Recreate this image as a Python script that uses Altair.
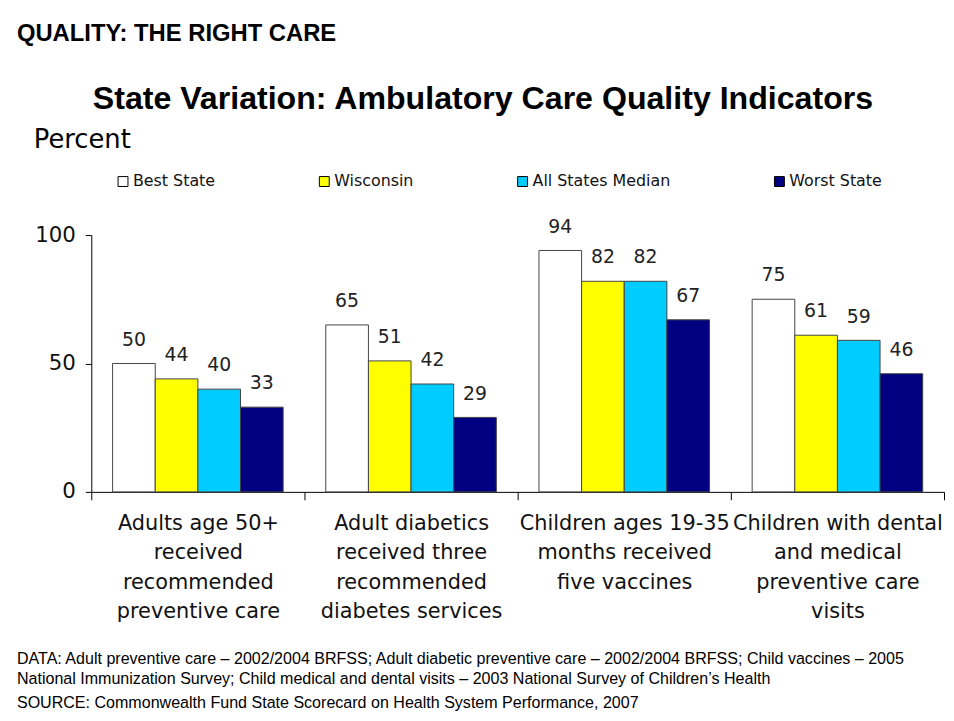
import altair as alt
import pandas as pd

# ---- data ----
categories = [
    "Adults age 50+|received|recommended|preventive care",
    "Adult diabetics|received three|recommended|diabetes services",
    "Children ages 19-35|months received|five vaccines",
    "Children with dental|and medical|preventive care|visits",
]
series = ["Best State", "Wisconsin", "All States Median", "Worst State"]
colors = ["#FFFFFF", "#FFFF00", "#00CCFF", "#000080"]
best_state = [50, 65, 94, 75]
wisconsin = [44, 51, 82, 61]
all_states_median = [40, 42, 82, 59]
worst_state = [33, 29, 67, 46]

header = "QUALITY: THE RIGHT CARE"
title = "State Variation: Ambulatory Care Quality Indicators"
y_title = "Percent"
footer = [
    "DATA: Adult preventive care \u2013 2002/2004 BRFSS; Adult diabetic preventive care \u2013 2002/2004 BRFSS; Child vaccines \u2013 2005",
    "National Immunization Survey; Child medical and dental visits \u2013 2003 National Survey of Children\u2019s Health",
    "SOURCE: Commonwealth Fund State Scorecard on Health System Performance, 2007",
]

rows = []
for s, vals in zip(series, [best_state, wisconsin, all_states_median, worst_state]):
    for c, v in zip(categories, vals):
        rows.append({"category": c, "series": s, "value": v})
df = pd.DataFrame(rows)

W, H = 860, 259
FONT = "DejaVu Sans"

x_enc = alt.X(
    "category:N",
    sort=categories,
    scale=alt.Scale(paddingInner=0, paddingOuter=0),
    axis=alt.Axis(
        title=None,
        labelAngle=0,
        labelExpr="split(datum.label, '|')",
        labelFont=FONT,
        labelFontSize=21,
        labelColor="#111",
        labelLineHeight=29.5,
        labelPadding=13,
        tickBand="extent",
        tickSize=8,
        tickColor="black",
        domainColor="black",
        labelLimit=300,
        grid=False,
    ),
)
y_enc = alt.Y(
    "value:Q",
    scale=alt.Scale(domain=[0, 100]),
    axis=alt.Axis(
        title=None,
        values=[0, 50, 100],
        labelFont=FONT,
        labelFontSize=21.5,
        labelColor="#111",
        tickSize=6,
        tickColor="black",
        domainColor="black",
        labelPadding=10,
        grid=False,
    ),
)

base = alt.Chart(df).encode(
    x=x_enc,
    xOffset=alt.XOffset(
        "series:N", sort=series, scale=alt.Scale(paddingInner=0, paddingOuter=0.5)
    ),
)

bars = base.mark_bar(stroke="#444", strokeWidth=1).encode(
    y=y_enc,
    fill=alt.Fill(
        "series:N",
        sort=series,
        scale=alt.Scale(domain=series, range=colors),
        legend=alt.Legend(
            title=None,
            orient="none",
            legendX=24,
            legendY=-62,
            direction="horizontal",
            symbolType="square",
            symbolSize=100,
            symbolStrokeColor="black",
            symbolStrokeWidth=1,
            labelFont=FONT,
            labelFontSize=16,
            labelColor="#111",
            labelOffset=2,
            columnPadding=102,
            padding=0,
        ),
    ),
)

labels = base.mark_text(
    font=FONT, fontSize=19, color="#222", baseline="middle", dy=-24
).encode(y="value:Q", text="value:Q")


def free_text(txt, x, y, **kw):
    return alt.Chart(pd.DataFrame({"t": [txt]})).mark_text(
        baseline="middle", color="black", **kw
    ).encode(x=alt.value(x), y=alt.value(y), text="t:N")


header_t = free_text(header, -75, -203, font="Liberation Sans", fontSize=24,
                     fontWeight="bold", align="left")
title_t = free_text(title, 395, -137, font="Liberation Sans", fontSize=32.4,
                    fontWeight="bold", align="center")
ytitle_t = free_text(y_title, -58, -96, font=FONT, fontSize=26, align="left")
footer_layers = [
    free_text(line, -75, yy, font="Liberation Sans", fontSize=16.2, align="left")
    for line, yy in zip(footer, [428, 448, 472])
]

chart = alt.layer(bars, labels, header_t, title_t, ytitle_t, *footer_layers).properties(
    width=W,
    height=H,
    background="white",
    padding={"left": 84, "top": 226, "right": 2, "bottom": 219},
    autosize=alt.AutoSizeParams(type="none"),
).configure_view(stroke=None)

chart.save("out.html", embed_options={"renderer": "svg", "actions": False})
